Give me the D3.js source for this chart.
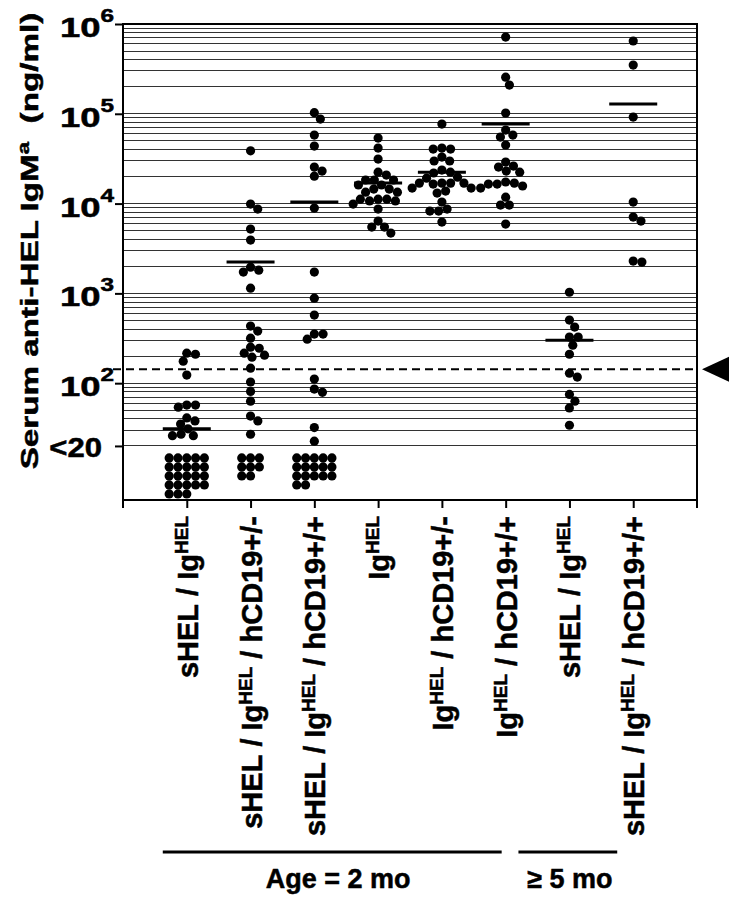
<!DOCTYPE html>
<html>
<head>
<meta charset="utf-8">
<script src="https://cdn.jsdelivr.net/npm/d3@7"></script>
<style>
  body { margin: 0; background: #fff; }
  text { font-family: "Liberation Sans", Arial, sans-serif; font-weight: bold; fill: #000;
         stroke: #000; stroke-width: 0.5px; }
</style>
</head>
<body>
<div id="canvas"></div>
<script>
// group labels, {..} = superscript
const groups = [
  "sHEL / Ig{HEL}",
  "sHEL / Ig{HEL} / hCD19+/-",
  "sHEL / Ig{HEL} / hCD19+/+",
  "Ig{HEL}",
  "Ig{HEL} / hCD19+/-",
  "Ig{HEL} / hCD19+/+",
  "sHEL / Ig{HEL}",
  "sHEL / Ig{HEL} / hCD19+/+"
];

// detected anti-HEL IgMa values (ng/ml)
const sHEL_Ig_2mo = [216, 210, 176, 123, 57, 57, 54, 41, 38, 35, 31, 27, 26, 26];
const sHEL_Ig_CD19het_2mo = [38700, 9870, 8690, 5200, 3920, 1960, 1815, 1725, 1143, 432, 380, 317, 252,
  245, 216, 205, 195, 147, 103, 81, 63, 43, 38, 27];
const sHEL_Ig_CD19hom_2mo = [102800, 87400, 58000, 43700, 25500, 23000, 20200, 8910, 1725, 885, 573,
  352, 352, 309, 111, 86, 79, 32, 22.6];
const Ig_2mo = [53700, 41500, 31300, 22400, 20800, 18300, 18300, 18300, 16100, 16100, 14500, 14500,
  13400, 13400, 11200, 11200, 11200, 10700, 10700, 9870, 8690, 6380, 5470, 5470, 4690];
const Ig_CD19het_2mo = [76900, 41500, 40500, 40500, 33000, 29800, 29800, 23600, 22400, 21900, 19700,
  19200, 16900, 16900, 16900, 16900, 16500, 14900, 14900, 13800, 13100, 10400, 8690, 8250, 8250, 6220];
const Ig_CD19hom_2mo = [716000, 256000, 209000, 102000, 65900, 58000, 55100, 44900, 29000, 26200, 25500,
  23000, 22400, 17400, 16900, 16500, 16500, 15700, 14900, 11800, 9620, 9620, 5910];
const sHEL_Ig_5mo = [1030, 504, 421, 326, 326, 265, 210, 129, 117, 75, 63, 53, 34];
const sHEL_Ig_CD19hom_5mo = [647000, 349000, 92000, 10400, 7080, 6380, 2290, 2230];

const seriesValues = [sHEL_Ig_2mo, sHEL_Ig_CD19het_2mo, sHEL_Ig_CD19hom_2mo, Ig_2mo,
  Ig_CD19het_2mo, Ig_CD19hom_2mo, sHEL_Ig_5mo, sHEL_Ig_CD19hom_5mo];
// mice below the 20 ng/ml detection limit
const belowLimit = [23, 8, 17, 0, 0, 0, 0, 0];
const gridCols = [5, 3, 5, 5, 5, 5, 5, 5];
// group mean bars
const groupMeans = [31, 2230, 10400, 16900, 22400, 76900, 301, 128500];
const cutoff = 143;
const yTicks = [1e6, 1e5, 1e4, 1e3, 1e2, 20];
const ageBands = [
  { label: "Age = 2 mo", from: 0, to: 5 },
  { label: "\u2265 5 mo", from: 6, to: 7 }
];

const width = 729, height = 899;
const margin = { top: 24, left: 123, right: 32, bottom: 399 };
const r = 4.6;

const svg = d3.select("#canvas").append("svg")
  .attr("width", width).attr("height", height);

const y = d3.scaleLog().domain([5, 1e6]).range([height - margin.bottom, margin.top]);
const x = d3.scalePoint().domain(d3.range(groups.length))
  .range([margin.left, width - margin.right]).padding(1);
const x0 = margin.left, x1 = width - margin.right;
const yb = height - margin.bottom;

// minor log gridlines from 20 up
const gridVals = [];
for (let e = 1; e <= 5; e++) for (let m = 1; m <= 9; m++) {
  const v = m * Math.pow(10, e);
  if (v >= 20) gridVals.push(v);
}
gridVals.push(1e6);

svg.append("g").selectAll("line").data(gridVals).join("line")
  .attr("x1", x0).attr("x2", x1)
  .attr("y1", d => y(d)).attr("y2", d => y(d))
  .attr("stroke", "#333").attr("stroke-width", 1)
  .attr("shape-rendering", "crispEdges");

// frame
svg.append("line").attr("x1", x0).attr("x2", x1).attr("y1", margin.top).attr("y2", margin.top)
  .attr("stroke", "#000").attr("stroke-width", 2);
svg.append("line").attr("x1", x0).attr("x2", x1).attr("y1", yb).attr("y2", yb)
  .attr("stroke", "#000").attr("stroke-width", 2);
[x0, x1].forEach(xx => svg.append("line")
  .attr("x1", xx).attr("x2", xx).attr("y1", margin.top - 1).attr("y2", yb + 8)
  .attr("stroke", "#000").attr("stroke-width", 2));

// axes ticks
const yAxis = svg.append("g").attr("transform", `translate(${x0},0)`)
  .call(d3.axisLeft(y).tickValues(yTicks).tickSize(8).tickFormat(""));
yAxis.select(".domain").remove();
yAxis.selectAll(".tick line").attr("stroke-width", 2);

const xAxis = svg.append("g").attr("transform", `translate(0,${yb})`)
  .call(d3.axisBottom(x).tickSize(8).tickFormat(""));
xAxis.select(".domain").remove();
xAxis.selectAll(".tick line").attr("stroke-width", 2);

// y tick labels
yTicks.forEach(v => {
  if (v === 20) {
    svg.append("text")
      .attr("transform", `translate(102,${y(v) + 11}) scale(1.15,1)`)
      .attr("text-anchor", "end").style("font-size", "27px").text("<20");
  } else {
    const t = svg.append("text")
      .attr("transform", `translate(114,${y(v) + 13}) scale(1.35,1)`)
      .attr("text-anchor", "end").style("font-size", "27px");
    t.append("tspan").text("10");
    t.append("tspan").attr("dy", -15).style("font-size", "18px").text(Math.round(Math.log10(v)));
  }
});

// y title
const title = svg.append("text").attr("text-anchor", "middle").style("font-size", "24px");
title.append("tspan").text("Serum anti-HEL IgM");
title.append("tspan").attr("dy", -9).style("font-size", "16px").text("a");
title.append("tspan").attr("dy", 9).text("\u00a0\u00a0(ng/ml)");
const tw = title.node().getBBox().width;
title.attr("transform", `translate(38,241) rotate(-90) scale(${457 / tw},1)`);

// dashed cutoff + marker
svg.append("line").attr("x1", 113).attr("x2", x1)
  .attr("y1", y(cutoff)).attr("y2", y(cutoff))
  .attr("stroke", "#000").attr("stroke-width", 2).attr("stroke-dasharray", "8,5");
const yc = y(cutoff);
svg.append("path")
  .attr("d", `M702,${yc} L729,${yc - 12.5} L729,${yc + 12.5} Z`)
  .attr("fill", "#000");

// beeswarm
function swarm(values) {
  const d = 2 * r * 0.95;
  const pts = values.map(v => ({ v, y: y(v) })).sort((a, b) => a.y - b.y);
  const placed = [];
  pts.forEach(p => {
    const cands = [0];
    placed.forEach(q => {
      const dy = Math.abs(q.y - p.y);
      if (dy < d) {
        const dx = Math.sqrt(d * d - dy * dy);
        cands.push(q.x + dx, q.x - dx);
      }
    });
    cands.sort((a, b) => Math.abs(a) - Math.abs(b));
    for (const c of cands) {
      if (placed.every(q => (q.x - c) ** 2 + (q.y - p.y) ** 2 >= d * d - 0.01)) { p.x = c; break; }
    }
    placed.push(p);
  });
  return placed;
}

const dots = svg.append("g");
seriesValues.forEach((vals, i) => {
  dots.selectAll(null).data(swarm(vals)).join("circle")
    .attr("cx", d => x(i) + d.x).attr("cy", d => d.y).attr("r", r).attr("fill", "#000");
  // below detection grid
  const n = belowLimit[i], cols = gridCols[i], step = 8.8;
  const cells = d3.range(n).map(k => ({ c: k % cols, row: Math.floor(k / cols) }));
  dots.selectAll(null).data(cells).join("circle")
    .attr("cx", d => x(i) + (d.c - (cols - 1) / 2) * step)
    .attr("cy", d => y(20) + 12 + d.row * 9)
    .attr("r", r).attr("fill", "#000");
});

// mean bars
svg.append("g").selectAll("line").data(groupMeans).join("line")
  .attr("x1", (d, i) => x(i) - 24).attr("x2", (d, i) => x(i) + 24)
  .attr("y1", d => y(d)).attr("y2", d => y(d))
  .attr("stroke", "#000").attr("stroke-width", 3);

// group labels (rotated)
groups.forEach((lab, i) => {
  const t = svg.append("text")
    .attr("transform", `translate(${x(i) + 11},516) rotate(-90)`)
    .attr("text-anchor", "end").style("font-size", "29px");
  const parts = lab.split(/\{|\}/);
  parts.forEach((p, k) => {
    if (!p) return;
    const sup = k % 2 === 1;
    const s = t.append("tspan").text(p.replace(/ /g, "\u00a0"));
    if (sup) s.attr("dy", -10).style("font-size", "19px");
    else if (k > 0) s.attr("dy", 10);
  });
});

// age bands
const bandPad = [[-24, -4], [-51, -16]];
ageBands.forEach((b, k) => {
  const bx0 = x(b.from) + bandPad[k][0], bx1 = x(b.to) + bandPad[k][1];
  svg.append("line").attr("x1", bx0).attr("x2", bx1).attr("y1", 852).attr("y2", 852)
    .attr("stroke", "#000").attr("stroke-width", 3);
  svg.append("text").attr("x", (bx0 + bx1) / 2 + (k === 0 ? 6 : 2)).attr("y", 888)
    .attr("text-anchor", "middle").style("font-size", "27px").text(b.label);
});
</script>
</body>
</html>
